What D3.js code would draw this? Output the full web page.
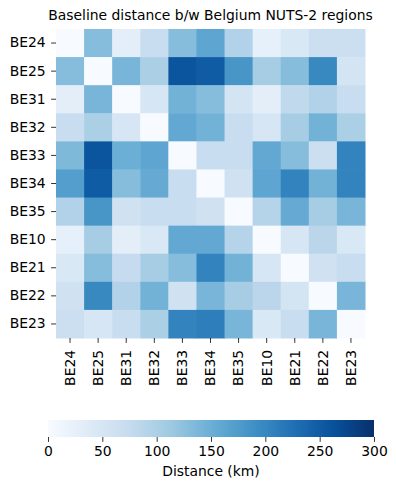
<!DOCTYPE html>
<html>
<head>
<meta charset="utf-8">
<script src="https://cdn.jsdelivr.net/npm/d3@7"></script>
<style>
  body { margin: 0; background: #fff; }
  text { font-family: "DejaVu Sans", sans-serif; fill: #000; }
</style>
</head>
<body>
<div id="chart"></div>
<script>
// regions, in the order they are shown on both axes
const regions = ["BE24", "BE25", "BE31", "BE32", "BE33", "BE34", "BE35", "BE10", "BE21", "BE22", "BE23"];

// distance in km, one row per region
const rowBE24 = [0, 130, 30, 70, 130, 162, 95, 25, 45, 65, 65];
const rowBE25 = [130, 0, 140, 100, 258, 250, 182, 105, 130, 198, 55];
const rowBE31 = [30, 140, 0, 50, 145, 130, 55, 30, 80, 95, 70];
const rowBE32 = [70, 100, 50, 0, 158, 145, 70, 50, 105, 145, 100];
const rowBE33 = [135, 258, 150, 162, 0, 70, 70, 158, 130, 65, 205];
const rowBE34 = [172, 250, 130, 155, 70, 0, 60, 162, 205, 145, 205];
const rowBE35 = [95, 182, 60, 70, 70, 60, 0, 90, 155, 105, 140];
const rowBE10 = [25, 105, 30, 45, 158, 158, 90, 0, 50, 85, 45];
const rowBE21 = [45, 130, 75, 105, 130, 205, 145, 50, 0, 60, 70];
const rowBE22 = [60, 198, 95, 145, 60, 140, 105, 85, 55, 0, 140];
const rowBE23 = [65, 50, 70, 100, 205, 210, 140, 45, 70, 140, 0];

const colorTicks = [0, 50, 100, 150, 200, 250, 300];
const blues = ["#f7fbff", "#deebf7", "#c6dbef", "#9ecae1", "#6baed6", "#4292c6", "#2171b5", "#08519c", "#08306b"];

const rows = [rowBE24, rowBE25, rowBE31, rowBE32, rowBE33, rowBE34, rowBE35, rowBE10, rowBE21, rowBE22, rowBE23];

const width = 396, height = 490;
const hm = {left: 56, top: 29, size: 309};
const cb = {left: 48, right: 374, top: 420, height: 17};
const fontSize = "13.9px";
const tickLen = 4.9, tickPad = 5.5;

const svg = d3.select("#chart").append("svg")
  .attr("width", width)
  .attr("height", height);

const x = d3.scaleBand().domain(regions).range([hm.left, hm.left + hm.size]);
const y = d3.scaleBand().domain(regions).range([hm.top, hm.top + hm.size]);

// matplotlib "Blues" is a linear ramp through these 9 stops
const color = d3.scaleLinear()
  .domain(blues.map((d, i) => i * 300 / (blues.length - 1)))
  .range(blues)
  .clamp(true);

const cells = [];
rows.forEach((r, i) => r.forEach((v, j) => cells.push({row: regions[i], col: regions[j], v: v})));

svg.append("g").selectAll("rect")
  .data(cells)
  .join("rect")
  .attr("x", d => x(d.col))
  .attr("y", d => y(d.row))
  .attr("width", x.bandwidth() + 0.5)
  .attr("height", y.bandwidth() + 0.5)
  .attr("fill", d => color(d.v));

// axes
const yAxis = svg.append("g")
  .attr("transform", `translate(${hm.left},0)`)
  .call(d3.axisLeft(y).tickSize(tickLen).tickPadding(tickPad));
const xAxis = svg.append("g")
  .attr("transform", `translate(0,${hm.top + hm.size})`)
  .call(d3.axisBottom(x).tickSize(tickLen).tickPadding(tickPad));

[yAxis, xAxis].forEach(a => {
  a.select(".domain").remove();
  a.selectAll(".tick line").attr("stroke", "#000").attr("stroke-width", 0.8);
  a.selectAll("text").style("font-size", fontSize).attr("font-family", "DejaVu Sans");
});

xAxis.selectAll("text")
  .attr("transform", "rotate(-90)")
  .attr("text-anchor", "end")
  .attr("x", -(tickLen + tickPad + 1.5))
  .attr("y", 0)
  .attr("dy", "0.35em");

svg.append("text")
  .attr("x", hm.left + hm.size / 2)
  .attr("y", 20)
  .attr("text-anchor", "middle")
  .style("font-size", fontSize)
  .text("Baseline distance b/w Belgium NUTS-2 regions");

// colorbar
const defs = svg.append("defs");
const grad = defs.append("linearGradient").attr("id", "cbGrad");
grad.selectAll("stop")
  .data(blues)
  .join("stop")
  .attr("offset", (d, i) => i / (blues.length - 1))
  .attr("stop-color", d => d);

const cx = d3.scaleLinear().domain([0, 300]).range([cb.left, cb.right]);

svg.append("rect")
  .attr("x", cb.left)
  .attr("y", cb.top)
  .attr("width", cb.right - cb.left)
  .attr("height", cb.height)
  .attr("fill", "url(#cbGrad)");

const cAxis = svg.append("g")
  .attr("transform", `translate(0,${cb.top + cb.height})`)
  .call(d3.axisBottom(cx).tickValues(colorTicks).tickSize(tickLen).tickPadding(4));
cAxis.select(".domain").remove();
cAxis.selectAll(".tick line").attr("stroke", "#000").attr("stroke-width", 0.8);
cAxis.selectAll("text").style("font-size", fontSize).attr("font-family", "DejaVu Sans");

svg.append("text")
  .attr("x", (cb.left + cb.right) / 2)
  .attr("y", 476)
  .attr("text-anchor", "middle")
  .style("font-size", fontSize)
  .text("Distance (km)");
</script>
</body>
</html>
